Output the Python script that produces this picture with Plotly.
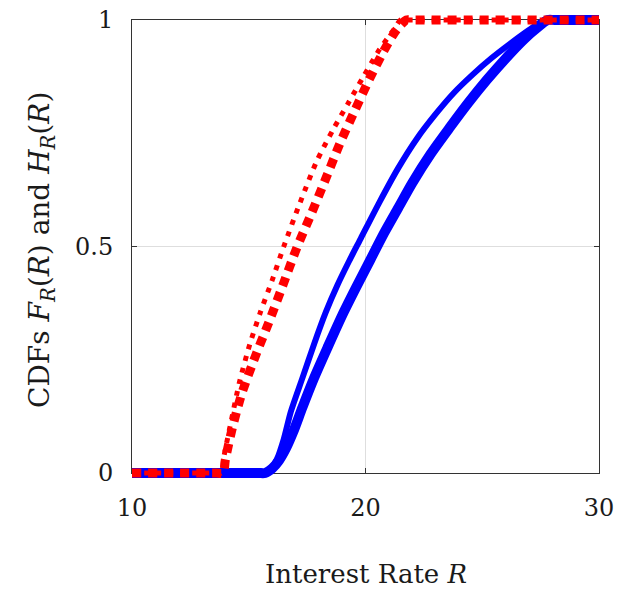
import plotly.graph_objects as go

# Interest rate values R and CDF values
red_dot_R = [10, 13.5, 13.82, 13.95, 14.25, 14.6, 15.05, 15.5, 16.0, 16.5, 17.2, 17.9, 18.6, 19.3, 19.9, 20.6, 21.2, 21.5, 21.7, 30]
red_dot_F = [0, 0, 0, 0.04, 0.115, 0.2, 0.285, 0.355, 0.425, 0.5, 0.597, 0.687, 0.757, 0.82, 0.874, 0.935, 0.978, 1, 1, 1]

red_dash_R = [10, 13.6, 13.9, 14.0, 14.3, 14.7, 15.3, 15.9, 16.5, 17.05, 17.7, 18.3, 18.9, 19.55, 20.2, 20.85, 21.35, 21.75, 21.95, 30]
red_dash_F = [0, 0, 0, 0.03, 0.1, 0.175, 0.26, 0.338, 0.42, 0.496, 0.575, 0.65, 0.727, 0.801, 0.873, 0.938, 0.98, 1, 1, 1]

blue_thin_R = [10, 15.3, 15.6, 15.9, 16.2, 16.5, 16.8, 17.3, 17.8, 18.3, 18.8, 19.3, 19.8, 20.6, 21.4, 22.2, 23.0, 23.8, 24.6, 25.4, 26.2, 27.0, 27.65, 28.0, 30]
blue_thin_F = [0, 0, 0, 0.008, 0.03, 0.075, 0.135, 0.21, 0.285, 0.355, 0.415, 0.468, 0.518, 0.598, 0.673, 0.738, 0.792, 0.84, 0.88, 0.916, 0.948, 0.978, 1, 1, 1]

blue_thick_R = [10, 15.4, 15.7, 16.0, 16.3, 16.6, 16.9, 17.3, 17.8, 18.4, 19.0, 19.6, 20.2, 20.8, 21.4, 22.0, 22.8, 23.6, 24.4, 25.2, 26.0, 26.8, 27.4, 27.8, 28.1, 30]
blue_thick_F = [0, 0, 0, 0.01, 0.028, 0.055, 0.09, 0.145, 0.21, 0.28, 0.348, 0.41, 0.47, 0.53, 0.585, 0.64, 0.705, 0.762, 0.817, 0.868, 0.915, 0.958, 0.985, 1, 1, 1]

x_ticks = [10, 20, 30]
y_ticks = [0, 0.5, 1]
y_tick_text = ["0", "0.5", "1"]

FONT = "DejaVu Serif"
TXT = "#1a1a1a"

# page geometry (px) of the axes frame
W, H = 618, 590
FL, FR, FT, FB = 132, 599, 20, 473
PAD = 14  # extra room so thick lines on the frame are not clipped
X0, X1 = 10, 30
Y0, Y1 = 0, 1
ux = (FR - FL) / (X1 - X0)
uy = (FB - FT) / (Y1 - Y0)

fig = go.Figure()
# empty trace so that the framed axes (x, y) are drawn
fig.add_trace(go.Scatter(x=[], y=[], mode="lines", xaxis="x", yaxis="y", hoverinfo="skip"))

line_specs = [
    (blue_thick_R, blue_thick_F, dict(color="#0000ff", width=10)),
    (blue_thin_R, blue_thin_F, dict(color="#0000ff", width=6)),
    (red_dash_R, red_dash_F, dict(color="#ff0000", width=9, dash="9px,7px")),
    (red_dot_R, red_dot_F, dict(color="#ff0000", width=5, dash="5px,7px")),
]
for xs, ys, ln in line_specs:
    ln.update(shape="spline", smoothing=0.7)
    fig.add_trace(go.Scatter(x=xs, y=ys, mode="lines", line=ln, xaxis="x2", yaxis="y2",
                             hoverinfo="skip"))

axis_common = dict(
    showline=True, linecolor="#333333", linewidth=1, mirror="ticks",
    ticks="inside", ticklen=5, tickcolor="#333333",
    showgrid=True, gridcolor="#dedede", gridwidth=1,
    zeroline=False, automargin=False, fixedrange=True,
    tickfont=dict(family=FONT, size=24, color=TXT),
)

fig.update_layout(
    width=W, height=H,
    margin=dict(l=0, r=0, t=0, b=0),
    paper_bgcolor="white", plot_bgcolor="rgba(0,0,0,0)",
    showlegend=False,
    xaxis=dict(domain=[FL / W, FR / W], range=[X0, X1], tickvals=x_ticks,
               ticklabelstandoff=13, anchor="y", **axis_common),
    yaxis=dict(domain=[1 - FB / H, 1 - FT / H], range=[Y0, Y1], tickvals=y_ticks,
               ticktext=y_tick_text, ticklabelstandoff=13, anchor="x", **axis_common),
    xaxis2=dict(domain=[(FL - PAD) / W, (FR + PAD) / W],
                range=[X0 - PAD / ux, X1 + PAD / ux], visible=False, anchor="y2", fixedrange=True),
    yaxis2=dict(domain=[1 - (FB + PAD) / H, 1 - (FT - PAD) / H],
                range=[Y0 - PAD / uy, Y1 + PAD / uy], visible=False, anchor="x2", fixedrange=True),
)

fig.add_annotation(text="Interest Rate <i>R</i>", xref="paper", yref="paper",
                   x=(FL + FR) / 2 / W, y=1 - 574 / H,
                   xanchor="center", yanchor="middle", showarrow=False,
                   font=dict(family=FONT, size=26, color=TXT))
fig.add_annotation(text="CDFs <i>F</i><sub><i>R</i></sub>(<i>R</i>) and <i>H</i><sub><i>R</i></sub>(<i>R</i>)",
                   xref="paper", yref="paper", x=41 / W, y=1 - 250 / H,
                   xanchor="center", yanchor="middle", textangle=-90, showarrow=False,
                   font=dict(family=FONT, size=28, color=TXT))

fig.write_html("out.html")
